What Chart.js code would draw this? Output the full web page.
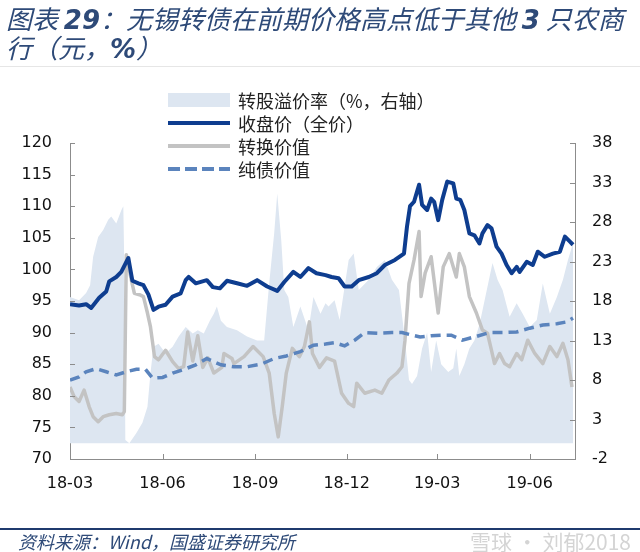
<!DOCTYPE html>
<html>
<head>
<meta charset="utf-8">
<script src="https://cdn.jsdelivr.net/npm/chart.js@4.4.1/dist/chart.umd.min.js"></script>
<style>
  body { margin: 0; background: #fff; }
  #wrap { position: relative; width: 640px; height: 552px; overflow: hidden; font-family: "Noto Sans CJK SC", sans-serif; }
  #chart { position: absolute; left: 0; top: 0; }
  .title { position: absolute; left: 6px; font-size: 26px; font-style: italic; color: #2e4a78; white-space: nowrap; line-height: 30px; }
  .title b { font-family: "DejaVu Sans", sans-serif; font-weight: bold; }
  .rule { position: absolute; left: 0; width: 640px; }
  .legend { position: absolute; left: 168px; top: 88px; font-size: 18px; color: #222; }
  .row { height: 23px; display: flex; align-items: center; white-space: nowrap; }
  .sw { width: 62px; margin-right: 8px; }
  .foot { position: absolute; left: 18px; top: 528px; font-size: 18px; font-style: italic; color: #2e4a78; white-space: nowrap; }
  .mark { position: absolute; left: 470px; top: 526px; font-size: 21px; color: rgba(160,160,160,0.45); white-space: nowrap; }
</style>
</head>
<body>
<div id="wrap">
  <canvas id="chart" width="640" height="552"></canvas>
  <div class="title" style="top:3px">图表 <b>29</b>：无锡转债在前期价格高点低于其他 <b>3</b> 只农商</div>
  <div class="title" style="top:32px">行（元，<b>%</b>）</div>
  <div class="rule" style="top:66px;height:1px;background:#e6e6e6"></div>
  <div class="legend">
    <div class="row"><div class="sw" style="height:14px;background:#dde6f1"></div>转股溢价率（%，右轴）</div>
    <div class="row"><div class="sw" style="height:4px;background:#0e3d8f"></div>收盘价（全价）</div>
    <div class="row"><div class="sw" style="height:4px;background:#c3c3c3"></div>转换价值</div>
    <div class="row"><div class="sw" style="height:4px;background:repeating-linear-gradient(to right,#5b84bd 0 12px,transparent 12px 17px)"></div>纯债价值</div>
  </div>
  <div class="rule" style="top:528px;height:2px;background:#1f3a6e"></div>
  <div class="foot">资料来源：Wind，国盛证券研究所</div>
  <div class="mark">雪球 · 刘郁2018</div>
</div>
<script>
// x = days since 2018-03-01
const xTickDays = [0, 92, 184, 275, 365, 457]
const xTickLabels = ['18-03', '18-06', '18-09', '18-12', '19-03', '19-06']
const leftTicks = [70, 75, 80, 85, 90, 95, 100, 105, 110, 115, 120]
const rightTicks = [-2, 3, 8, 13, 18, 23, 28, 33, 38]

// 收盘价（全价）
const closeDays = [0,9,16,21,29,36,39,46,51,56,58,62,68,73,78,83,88,95,102,110,115,118,125,136,142,149,156,166,176,186,196,206,213,222,229,237,245,254,260,267,273,280,287,297,305,313,323,332,335,338,342,347,350,355,359,362,366,370,375,381,384,388,392,397,402,407,410,415,419,424,429,434,439,444,447,454,460,465,472,480,487,492,497,500]
const closeValues = [94.5,94.3,94.5,93.9,95.5,96.5,98.1,98.8,99.6,101.2,101.8,98.2,97.8,97.5,96,93.6,94.1,94.4,95.7,96.2,98.3,98.8,97.8,98.3,97.2,97,98.2,97.8,97.4,98.3,97.3,96.6,98,99.6,98.8,100.2,99.4,99.1,98.8,98.6,97.3,97.3,98.3,98.8,99.4,100.7,101.5,102.5,106.8,110,110.7,113.4,110.2,109.4,111.2,110.7,107.8,111,113.9,113.6,111.2,111,109.4,105.7,105.4,104.1,105.7,107,106.5,103.6,102.5,100.7,99.4,100.4,99.6,101.2,100.7,102.8,102,102.5,102.8,105.2,104.4,103.9]

// 转换价值
const convDays = [0,4,9,14,19,23,28,33,39,46,52,54,56,61,64,69,73,77,80,84,88,95,102,108,113,117,122,127,132,137,143,151,153,161,163,173,182,192,198,203,207,211,215,221,228,233,238,241,248,255,263,270,277,282,285,293,303,310,317,325,330,333,337,342,347,349,353,359,366,371,377,384,387,392,397,404,410,415,419,422,427,432,437,444,449,455,462,470,477,484,490,495,499]
const convValues = [81.4,79.9,79.1,80.9,78.3,76.7,75.9,76.7,77,77.2,77,77.5,102.3,98.3,96.2,96,95.7,93.1,90.9,86.2,85.7,87.2,85.4,84.3,84.6,90.1,85.5,89.5,84.5,86,83.6,84.5,86.7,85.9,85.1,86.2,87.8,86.2,83.6,77.2,73.5,78.3,83.6,87.5,86.2,87.8,91.7,86.7,84.5,86,85.5,80.4,78.8,78.3,82,80.4,80.9,80.4,82.5,83.6,84.6,88.8,97.8,101.5,106,95.7,99.4,102,93.1,100.4,102.5,98.8,102.5,100.4,95.7,93.1,90.4,89.9,87.2,85.1,86.7,85.1,84.6,86.7,85.7,88.8,86.7,85.1,87.8,86.2,88.3,85.7,81.4]

// 纯债价值
const bondDays = [0,9,16,26,36,46,56,66,75,82,92,102,112,125,136,150,163,176,190,203,215,229,242,254,263,273,283,293,307,320,330,340,348,359,371,379,390,404,417,430,444,457,470,484,494,500]
const bondValues = [82.5,83,83.8,84.3,83.8,83.3,83.8,84.2,84.2,82.8,82.9,83.6,84.1,84.9,85.9,84.9,84.6,84.6,85,85.9,86.3,87,88,88.2,88.4,87.9,88.8,90,89.9,90,90,89.6,89.3,89.5,89.6,89.6,88.8,89.4,90,90,90.1,90.7,91.2,91.4,91.7,92.3]

// 转股溢价率（%，右轴）
const premDays = [0,9,16,20,23,28,33,38,41,46,51,53,54,55,59,66,72,77,80,83,88,95,102,108,115,122,127,133,139,143,146,150,156,166,176,186,193,198,203,206,210,213,217,222,229,237,242,249,254,257,263,268,277,282,287,297,305,313,320,327,333,337,340,345,350,355,359,364,369,376,381,384,387,392,397,402,407,412,417,420,425,430,437,444,450,457,464,470,477,484,490,495,500]
const premValues = [18.5,18.1,19,20,23.6,26.1,27,28.3,28.7,27.8,29.5,30,22.3,0.4,0,1.3,2.6,4.6,8.9,12.2,12.6,11.4,12.2,13.5,14.7,13.9,14.3,13.9,15.5,16.4,17.3,15.5,14.7,14.3,13.5,13,13,20.2,26.6,31.6,25.7,19.4,18.5,14.7,17.3,14.3,18.5,16.4,17.7,17.3,18.1,15.6,23.2,24,19.4,20.7,22.3,23.2,20.7,19.4,13,8,7.5,8.5,12,14,9,13,10,9,9.5,12,8.5,10,12,13,15,18,21,22.8,20.7,19.4,16,17.7,16.4,14.7,15.6,20.2,16.4,18.5,20.7,23.2,25.3]

const toPoints = (days, values) => days.map((d, i) => ({ x: d, y: values[i] }))

const axisColor = '#8c8c8c'
const tickFont = { family: 'DejaVu Sans', size: 16 }

// tick marks point into the plot, so they are drawn here
const inwardTicks = {
  id: 'inwardTicks',
  afterDraw(chart) {
    const { ctx, chartArea: a, scales } = chart
    ctx.save()
    ctx.strokeStyle = axisColor
    ctx.lineWidth = 1
    ctx.beginPath()
    scales.y.ticks.forEach((t) => {
      const y = Math.round(scales.y.getPixelForValue(t.value)) + 0.5
      ctx.moveTo(a.left, y)
      ctx.lineTo(a.left + 5, y)
    })
    scales.y1.ticks.forEach((t) => {
      const y = Math.round(scales.y1.getPixelForValue(t.value)) + 0.5
      ctx.moveTo(a.right, y)
      ctx.lineTo(a.right - 5, y)
    })
    scales.x.ticks.forEach((t) => {
      const x = Math.round(scales.x.getPixelForValue(t.value)) + 0.5
      ctx.moveTo(x, a.bottom)
      ctx.lineTo(x, a.bottom - 5)
    })
    ctx.stroke()
    ctx.restore()
  },
}

new Chart(document.getElementById('chart'), {
  type: 'line',
  data: {
    datasets: [
      {
        label: '转股溢价率（%，右轴）',
        data: toPoints(premDays, premValues),
        yAxisID: 'y1',
        fill: 'origin',
        backgroundColor: '#dde6f1',
        borderWidth: 0,
        pointRadius: 0,
        order: 4,
      },
      {
        label: '转换价值',
        data: toPoints(convDays, convValues),
        yAxisID: 'y',
        borderColor: '#c3c3c3',
        borderWidth: 3.5,
        borderJoinStyle: 'round',
        pointRadius: 0,
        fill: false,
        order: 3,
      },
      {
        label: '纯债价值',
        data: toPoints(bondDays, bondValues),
        yAxisID: 'y',
        borderColor: '#5b84bd',
        borderWidth: 3.5,
        borderDash: [10, 6],
        pointRadius: 0,
        fill: false,
        order: 2,
      },
      {
        label: '收盘价（全价）',
        data: toPoints(closeDays, closeValues),
        yAxisID: 'y',
        borderColor: '#0e3d8f',
        borderWidth: 4,
        borderJoinStyle: 'round',
        pointRadius: 0,
        fill: false,
        order: 1,
      },
    ],
  },
  options: {
    responsive: false,
    animation: false,
    devicePixelRatio: 1,
    layout: { padding: { top: 143, left: 0, right: 0, bottom: 0 } },
    plugins: {
      legend: { display: false },
      tooltip: { enabled: false },
    },
    scales: {
      x: {
        type: 'linear',
        min: 0,
        max: 502,
        afterBuildTicks: (s) => { s.ticks = xTickDays.map((v) => ({ value: v })) },
        afterFit: (s) => { s.height = 93 },
        grid: { display: false, drawTicks: false },
        border: { display: true, color: axisColor, width: 1 },
        ticks: {
          autoSkip: false,
          maxRotation: 0,
          padding: 15,
          color: '#111',
          font: tickFont,
          callback: (v, i) => xTickLabels[i],
        },
      },
      y: {
        position: 'left',
        min: 70,
        max: 120,
        afterBuildTicks: (s) => { s.ticks = leftTicks.map((v) => ({ value: v })) },
        afterFit: (s) => { s.width = 70 },
        grid: { display: false, drawTicks: false },
        border: { display: true, color: axisColor, width: 1 },
        ticks: { padding: 18, color: '#111', font: tickFont },
      },
      y1: {
        position: 'right',
        min: -2,
        max: 38,
        afterBuildTicks: (s) => { s.ticks = rightTicks.map((v) => ({ value: v })) },
        afterFit: (s) => { s.width = 65 },
        grid: { display: false, drawTicks: false },
        border: { display: true, color: axisColor, width: 1 },
        ticks: { padding: 17, color: '#111', font: tickFont },
      },
    },
  },
  plugins: [inwardTicks],
})
</script>
</body>
</html>
